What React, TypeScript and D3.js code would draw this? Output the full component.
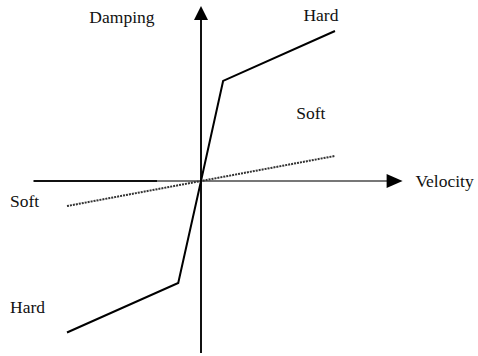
import React from "react";
import * as d3 from "d3";

const hardVelocity = [-1, -0.17, 0, 0.165, 1];
const hardDamping = [-1.01, -0.68, 0, 0.667, 1];
const softVelocity = [-1, 1];
const softDamping = [-0.167, 0.167];
const axisXRange = [-1.25, 1.4];
const axisYRange = [-1.147, 1.1];
const labels = [
  { text: "Damping", v: -0.59, d: 1.053, anchor: "middle" },
  { text: "Hard", v: 0.895, d: 1.067, anchor: "middle" },
  { text: "Soft", v: 0.82, d: 0.413, anchor: "middle" },
  { text: "Velocity", v: 1.6, d: -0.04, anchor: "start" },
  { text: "Soft", v: -1.425, d: -0.173, anchor: "start" },
  { text: "Hard", v: -1.425, d: -0.88, anchor: "start" },
];

const W = 478;
const H = 356;

export default function App() {
  const x = d3.scaleLinear().domain([0, 1]).range([201, 335]);
  const y = d3.scaleLinear().domain([0, 1]).range([181, 31]);
  const line = d3
    .line<[number, number]>()
    .x((p) => x(p[0]))
    .y((p) => y(p[1]));
  const hard = hardVelocity.map((v, i) => [v, hardDamping[i]] as [number, number]);
  const soft = softVelocity.map((v, i) => [v, softDamping[i]] as [number, number]);
  const x0 = x(0);
  const y0 = y(0);
  const hx1 = x(axisXRange[1]);
  const vyTop = y(axisYRange[1]);
  return (
    <svg
      width={W}
      height={H}
      style={{ position: "absolute", left: 0, top: 0, background: "#fff" }}
    >
      {/* horizontal axis */}
      <line x1={x(axisXRange[0])} x2={157} y1={y0} y2={y0} stroke="#111" strokeWidth={2} />
      <line x1={157} x2={hx1} y1={y0} y2={y0} stroke="#777" strokeWidth={2} />
      <path d={`M${hx1 - 2},${y0 - 7} L${hx1 + 14},${y0} L${hx1 - 2},${y0 + 7} Z`} fill="#000" />
      {/* vertical axis */}
      <line x1={x0} x2={x0} y1={y(axisYRange[0])} y2={vyTop} stroke="#111" strokeWidth={2} />
      <path d={`M${x0 - 7},${vyTop + 4} L${x0},${vyTop - 10} L${x0 + 7},${vyTop + 4} Z`} fill="#000" />
      {/* soft */}
      <path d={line(soft) || ""} fill="none" stroke="#333" strokeWidth={2} strokeDasharray="2,1" />
      {/* hard */}
      <path d={line(hard) || ""} fill="none" stroke="#000" strokeWidth={2} strokeLinejoin="miter" />
      {labels.map((l, i) => (
        <text
          key={i}
          x={x(l.v)}
          y={y(l.d)}
          textAnchor={l.anchor}
          fill="#111"
          style={{ fontFamily: '"Liberation Serif", "Times New Roman", Times, serif', fontSize: "17.5px" }}
        >
          {l.text}
        </text>
      ))}
    </svg>
  );
}
